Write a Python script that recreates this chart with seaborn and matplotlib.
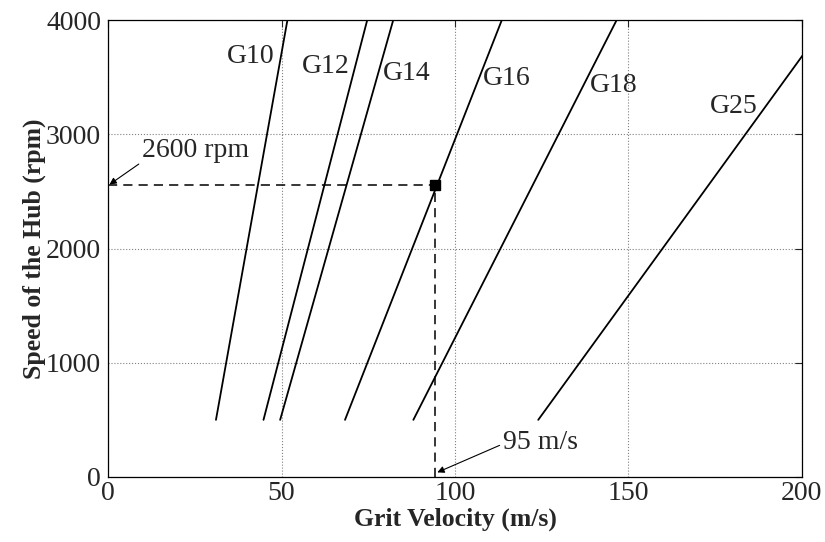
import matplotlib
matplotlib.use("Agg")
import matplotlib.pyplot as plt
import seaborn as sns
import pandas as pd

# grit grades and the velocity (m/s) at 500 rpm and 4000 rpm
grades = ["G10", "G12", "G14", "G16", "G18", "G25"]
rpm_ends = [500, 4000]
v_low = [31.1, 44.8, 49.6, 68.3, 88.0, 124.0]
v_high = [51.7, 74.7, 82.2, 113.5, 146.6, 207.6]

# label positions (velocity, rpm)
label_v = [34.3, 55.9, 79.3, 108.1, 138.9, 173.5]
label_rpm = [3680, 3590, 3535, 3490, 3430, 3240]

# operating point
op_v = 94.2
op_rpm = 2560

rows = []
for g, a, b in zip(grades, v_low, v_high):
    rows.append({"grade": g, "v": a, "rpm": rpm_ends[0]})
    rows.append({"grade": g, "v": b, "rpm": rpm_ends[1]})
df = pd.DataFrame(rows)

sns.set_style("white")
plt.rcParams["font.family"] = ["Liberation Serif", "DejaVu Serif"]

fig, ax = plt.subplots(figsize=(8.25, 5.42), dpi=100)

sns.lineplot(
    data=df,
    x="v",
    y="rpm",
    units="grade",
    estimator=None,
    color="black",
    linewidth=1.3,
    ax=ax
)

for g, lx, ly in zip(grades, label_v, label_rpm):
    ax.text(lx, ly, g, fontsize=20, va="center", ha="left")

# dashed guides to the operating point
ax.plot([0, op_v], [op_rpm, op_rpm], "k--", linewidth=1.1, dashes=(6, 4))
ax.plot([op_v, op_v], [0, op_rpm], "k--", linewidth=1.1, dashes=(6, 4))
ax.plot(op_v, op_rpm, "ks", markersize=7)

ax.annotate(
    "2600 rpm",
    xy=(0.4, op_rpm),
    xytext=(9.8, 2860),
    fontsize=20,
    va="center",
    ha="left",
    arrowprops=dict(arrowstyle="-|>", color="black", lw=0.8,
                    mutation_scale=10, shrinkA=0, shrinkB=0,
                    relpos=(0.02, 0.1)),
)
ax.annotate(
    "95 m/s",
    xy=(94.9, 40),
    xytext=(113.8, 300),
    fontsize=20,
    va="center",
    ha="left",
    arrowprops=dict(arrowstyle="-|>", color="black", lw=0.8,
                    mutation_scale=10, shrinkA=0, shrinkB=0,
                    relpos=(0.0, 0.45)),
)

ax.set_xlim(0, 200)
ax.set_ylim(0, 4000)
ax.set_xticks([0, 50, 100, 150, 200])
ax.set_yticks([0, 1000, 2000, 3000, 4000])
ax.grid(True, linestyle=":", color="gray", linewidth=0.8)
ax.tick_params(direction="in", top=True, right=True, labelsize=20,
               length=5, width=0.8)
ax.tick_params(axis="x", pad=3)
ax.tick_params(axis="y", pad=5)
for s in ax.spines.values():
    s.set_color("black")
    s.set_linewidth(0.9)

ax.set_xlabel("Grit Velocity (m/s)", fontsize=18.5, fontweight="bold", labelpad=1)
ax.set_ylabel("Speed of the Hub (rpm)", fontsize=18.5, fontweight="bold", labelpad=0)

fig.subplots_adjust(left=0.131, right=0.972, top=0.963, bottom=0.12)
fig.savefig("out.png", dpi=100)
plt.close(fig)
